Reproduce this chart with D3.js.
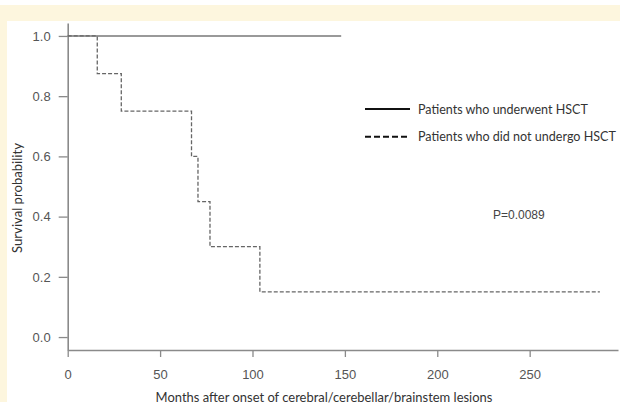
<!DOCTYPE html>
<html>
<head>
<meta charset="utf-8">
<script src="https://cdn.jsdelivr.net/npm/d3@7"></script>
<style>
  body { margin: 0; background: #fff; }
  svg { display: block; }
</style>
</head>
<body>
<svg id="km" width="620" height="408"></svg>
<script>
// Kaplan-Meier data
const hsctMonths = [0, 148];
const hsctSurvival = [1, 1];
const noHsctMonths = [0, 16, 29, 67, 70.5, 77, 104, 288];
const noHsctSurvival = [1, 0.875, 0.75, 0.6, 0.45, 0.3, 0.15, 0.15];

const xTicks = [0, 50, 100, 150, 200, 250];
const yTicks = [0, 0.2, 0.4, 0.6, 0.8, 1.0];
const legendLabels = ["Patients who underwent HSCT", "Patients who did not undergo HSCT"];
const pValueText = "P=0.0089";

const svg = d3.select("#km");

// page background: yellow frame
svg.append("rect").attr("x", 0).attr("y", 5).attr("width", 620).attr("height", 16).attr("fill", "#fdf6de");
svg.append("rect").attr("x", 0).attr("y", 5).attr("width", 7).attr("height", 397).attr("fill", "#fdf6de");

const x = d3.scaleLinear().domain([0, 297.8]).range([67.7, 618]);
const y = d3.scaleLinear().domain([-0.043, 1.043]).range([350, 23]);

const axisColor = "#8a8a8a";
const labelColor = "#555";
const titleFont = "Lato, 'Open Sans', sans-serif";

// shrink/grow a text so that it spans about the width seen in the figure
function fitWidth(sel, base, width) {
    const w = sel.node().getComputedTextLength();
    sel.style("font-size", (base * width / w).toFixed(2) + "px");
}

// y axis
const yAxis = svg.append("g")
    .attr("transform", `translate(${x(0)},0)`)
    .call(d3.axisLeft(y).tickValues(yTicks).tickFormat(d3.format(".1f")).tickSize(9).tickSizeOuter(0).tickPadding(8));

// x axis
const xAxis = svg.append("g")
    .attr("transform", `translate(0,${y.range()[0]})`)
    .call(d3.axisBottom(x).tickValues(xTicks).tickSize(7).tickSizeOuter(0).tickPadding(13));

[xAxis, yAxis].forEach((g) => {
    g.attr("font-size", null).attr("font-family", null);
    g.select(".domain").attr("stroke", axisColor).attr("stroke-width", 1.6);
    g.selectAll(".tick line").attr("stroke", axisColor).attr("stroke-width", 1.3);
    g.selectAll(".tick text")
        .attr("fill", labelColor)
        .style("font-family", "'Liberation Sans', Arial, sans-serif")
        .style("font-size", "13px");
});

// axis titles
const xTitle = svg.append("text")
    .attr("x", 324)
    .attr("y", 402)
    .attr("text-anchor", "middle")
    .attr("fill", "#333")
    .style("font-family", titleFont)
    .style("font-size", "12px")
    .text("Months after onset of cerebral/cerebellar/brainstem lesions");
fitWidth(xTitle, 12, 337);

const yTitle = svg.append("text")
    .attr("transform", "translate(22,198) rotate(-90)")
    .attr("text-anchor", "middle")
    .attr("fill", "#333")
    .style("font-family", titleFont)
    .style("font-size", "12px")
    .text("Survival probability");
fitWidth(yTitle, 12, 110);

// survival curves
const line = d3.line()
    .x((d) => x(d[0]))
    .y((d) => y(d[1]))
    .curve(d3.curveStepAfter);

svg.append("path")
    .datum(d3.zip(hsctMonths, hsctSurvival))
    .attr("fill", "none")
    .attr("stroke", "#777")
    .attr("stroke-width", 1.5)
    .attr("d", line);

svg.append("path")
    .datum(d3.zip(noHsctMonths, noHsctSurvival))
    .attr("fill", "none")
    .attr("stroke", "#666")
    .attr("stroke-width", 1.3)
    .attr("stroke-dasharray", "4,2")
    .attr("d", line);

// legend
const legend = svg.append("g");
const legendWidths = [170, 198];
legendLabels.forEach((lab, i) => {
    const ly = 109 + i * 27.7;
    legend.append("line")
        .attr("x1", 365).attr("x2", 410)
        .attr("y1", ly).attr("y2", ly)
        .attr("stroke", "#111")
        .attr("stroke-width", 2)
        .attr("stroke-dasharray", i === 0 ? null : "6,3");
    const t = legend.append("text")
        .attr("x", 418)
        .attr("y", ly + 4.5)
        .attr("fill", "#333")
        .style("font-family", titleFont)
        .style("font-size", "13px")
        .text(lab);
    fitWidth(t, 13, legendWidths[i]);
});

// p-value
svg.append("text")
    .attr("x", 493)
    .attr("y", 219)
    .attr("fill", "#444")
    .style("font-family", "'Liberation Sans', Arial, sans-serif")
    .style("font-size", "12px")
    .text(pValueText);
</script>
</body>
</html>
